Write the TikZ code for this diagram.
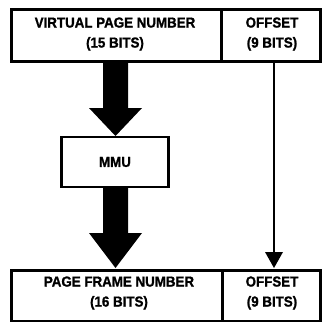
\documentclass[tikz,border=0pt]{standalone}
\usepackage{fontspec}
\setmainfont{Liberation Sans}
\newfontfamily\heavyfont[FakeStretch=0.92,FakeBold=1.2]{Liberation Sans Bold}
\begin{document}
\begin{tikzpicture}[x=1pt,y=-1pt,
  lbl/.style={font=\fontsize{14.5}{20}\heavyfont, align=center, inner sep=0pt},
  boxline/.style={draw=black, line width=3pt},
  fat/.style={fill=black, draw=none},
  thin/.style={draw=black, line width=2pt}]
\useasboundingbox (0,0) rectangle (322,322);
% top register
\draw[boxline] (11,9) rectangle (320,61);
\draw[boxline] (221,9) -- (221,61);
\node[lbl] (vpn) at (115,34) {VIRTUAL PAGE NUMBER\\(15 BITS)};
\node[lbl] (voff) at (272,34) {OFFSET\\(9 BITS)};
% MMU
\node[draw=black, line width=2.5pt, minimum width=107pt, minimum height=50pt, inner sep=0pt,
      font=\fontsize{14.5}{16}\heavyfont] (mmu) at (115,162) {MMU};
% bottom register
\draw[boxline] (11,270) rectangle (320,321);
\draw[boxline] (222,270) -- (222,321);
\node[lbl] (pfn) at (119,293) {PAGE FRAME NUMBER\\(16 BITS)};
\node[lbl] (poff) at (272,293) {OFFSET\\(9 BITS)};
% fat arrows
\fill[fat] (103,61) -- (128,61) -- (128,108) -- (142,108) -- (115.5,136) -- (89,108) -- (103,108) -- cycle;
\fill[fat] (103,187) -- (128,187) -- (128,233) -- (142,233) -- (115.5,268) -- (89,233) -- (103,233) -- cycle;
% thin arrow
\coordinate (ts) at (274,61);
\coordinate (te) at (274,268);
\draw[thin] (ts) -- (274,254);
\fill (265,252) -- (283,252) -- (te) -- cycle;
\end{tikzpicture}
\end{document}
